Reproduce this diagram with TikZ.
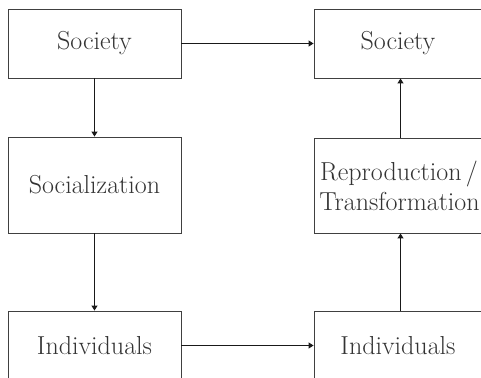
\documentclass[tikz,border=0pt]{standalone}
\usetikzlibrary{arrows.meta}
\begin{document}
\begin{tikzpicture}[x=1pt,y=-1pt,
  box/.style={draw=black!75, line width=0.9pt, inner sep=0pt, align=center,
    text=black!80, font=\fontsize{26}{30}\selectfont},
  conn/.style={line width=1.1pt, draw=black!90, -{Triangle[length=5pt,width=6pt]}}]
\useasboundingbox (0,0) rectangle (481,377);
\clip (0,0) rectangle (481,377);
\node[box, minimum width=173pt, minimum height=69pt] (s1) at (94.5,43.5) {Society};
\node[box, minimum width=173pt, minimum height=96pt] (soc) at (94.5,185) {Socialization};
\node[box, minimum width=173pt, minimum height=69pt] (i1) at (94.5,345.5) {Individuals};
\node[box, minimum width=173pt, minimum height=69pt, text width=173pt] (s2) at (400.5,43.5) {\hspace*{-5pt}Society};
\node[box, minimum width=173pt, minimum height=95pt, text width=173pt] (rep) at (400.5,185.5) {\hspace*{-3pt}Reproduction\,/\\\hspace*{-2pt}Transformation};
\node[box, minimum width=173pt, minimum height=69pt, text width=173pt] (i2) at (400.5,345.5) {\hspace*{-5pt}Individuals};
\draw[conn] (s1) -- (soc);
\draw[conn] (soc) -- (i1);
\draw[conn] (s1) -- (s2);
\draw[conn] (i1) -- (i2);
\draw[conn] (i2) -- (rep);
\draw[conn] (rep) -- (s2);
\end{tikzpicture}
\end{document}
